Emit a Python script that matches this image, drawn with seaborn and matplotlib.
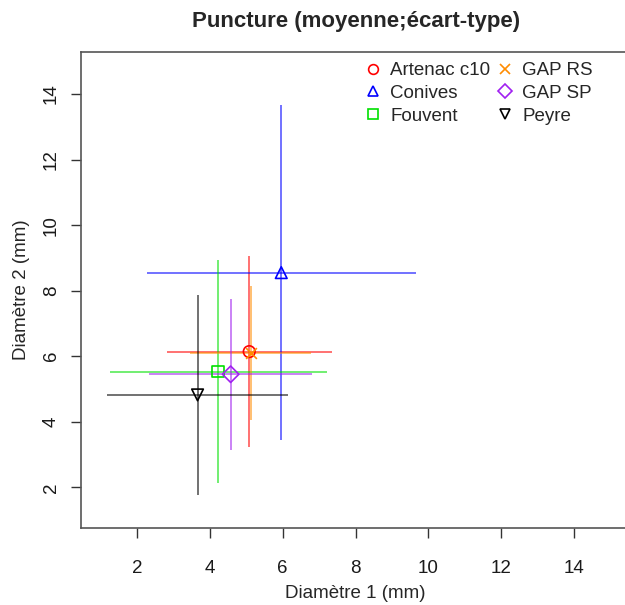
import numpy as np
import pandas as pd
import matplotlib
matplotlib.use("Agg")
import matplotlib.pyplot as plt
from matplotlib.lines import Line2D
import seaborn as sns

# values (mean and standard deviation, mm)
sites = ["Artenac c10", "Conives", "Fouvent", "GAP RS", "GAP SP", "Peyre"]
mean_d1 = [5.08, 5.96, 4.23, 5.12, 4.57, 3.66]
sd_d1 = [2.27, 3.69, 2.98, 1.67, 2.23, 2.48]
mean_d2 = [6.14, 8.55, 5.53, 6.10, 5.45, 4.82]
sd_d2 = [2.91, 5.11, 3.39, 2.05, 2.30, 3.05]
x_ticks = [2, 4, 6, 8, 10, 12, 14]
y_ticks = [2, 4, 6, 8, 10, 12, 14]

colors = ["#ff0000", "#0000ff", "#00e000", "#ff8c00", "#a020f0", "#000000"]
markers = ["o", "^", "s", "x", "D", "v"]

df = pd.DataFrame({"site": sites, "d1": mean_d1, "sd1": sd_d1,
                   "d2": mean_d2, "sd2": sd_d2})

sns.set_style("ticks")
plt.rcParams["font.family"] = ["Liberation Sans", "DejaVu Sans"]
plt.rcParams["font.size"] = 13.5

fig = plt.figure(figsize=(6.25, 6.05), dpi=100)
ax = fig.add_axes([80.7 / 625, 77 / 605, 550 / 625, 476 / 605])

for i, row in df.iterrows():
    c = colors[i]
    ax.errorbar(row["d1"], row["d2"], xerr=row["sd1"], yerr=row["sd2"],
                fmt="none", ecolor=c, alpha=0.6, elinewidth=1.3, capsize=0)
    if markers[i] == "x":
        sns.scatterplot(x=[row["d1"]], y=[row["d2"]], marker="x", color=c,
                        s=60, linewidth=1.2, ax=ax, zorder=3)
    else:
        sns.scatterplot(x=[row["d1"]], y=[row["d2"]], marker=markers[i],
                        color=c, facecolor="none", edgecolor=c, s=70,
                        linewidth=1.2, ax=ax, zorder=3)

ax.set_xlim(0.45, 15.56)
ax.set_ylim(0.76, 15.28)
ax.set_xticks(x_ticks)
ax.set_yticks(y_ticks)
ax.tick_params(direction="out", length=7, width=1, color="#333333",
               labelsize=13.5, labelcolor="#1a1a1a")
ax.tick_params(axis="x", pad=16)
ax.tick_params(axis="y", pad=8)
for lab in ax.get_yticklabels():
    lab.set_rotation(90)
    lab.set_va("center")
for s in ax.spines.values():
    s.set_color("#555555")
    s.set_linewidth(1.2)

ax.set_xlabel("Diamètre 1 (mm)", fontsize=13.5, labelpad=6)
ax.set_ylabel("Diamètre 2 (mm)", fontsize=13.5, labelpad=9)
fig.text(355.7 / 625, 1 - 21 / 605, "Puncture (moyenne;écart-type)",
         ha="center", va="center", fontsize=16, fontweight="bold")

handles = []
for i, name in enumerate(sites):
    if markers[i] == "x":
        h = Line2D([], [], ls="none", marker="x", color=colors[i],
                   markersize=7, markeredgewidth=1.2)
    else:
        h = Line2D([], [], ls="none", marker=markers[i], color=colors[i],
                   markerfacecolor="none", markersize=7, markeredgewidth=1.2)
    handles.append(h)
ax.legend(handles, sites, ncol=2, frameon=False, loc="upper left",
          bbox_to_anchor=(362 / 625, 1 - 62 / 605),
          bbox_transform=fig.transFigure, fontsize=13.5,
          handletextpad=0.3, handlelength=1.2, columnspacing=0.2,
          labelspacing=0.3, borderaxespad=0, borderpad=0)

fig.savefig("out.png", dpi=100)
